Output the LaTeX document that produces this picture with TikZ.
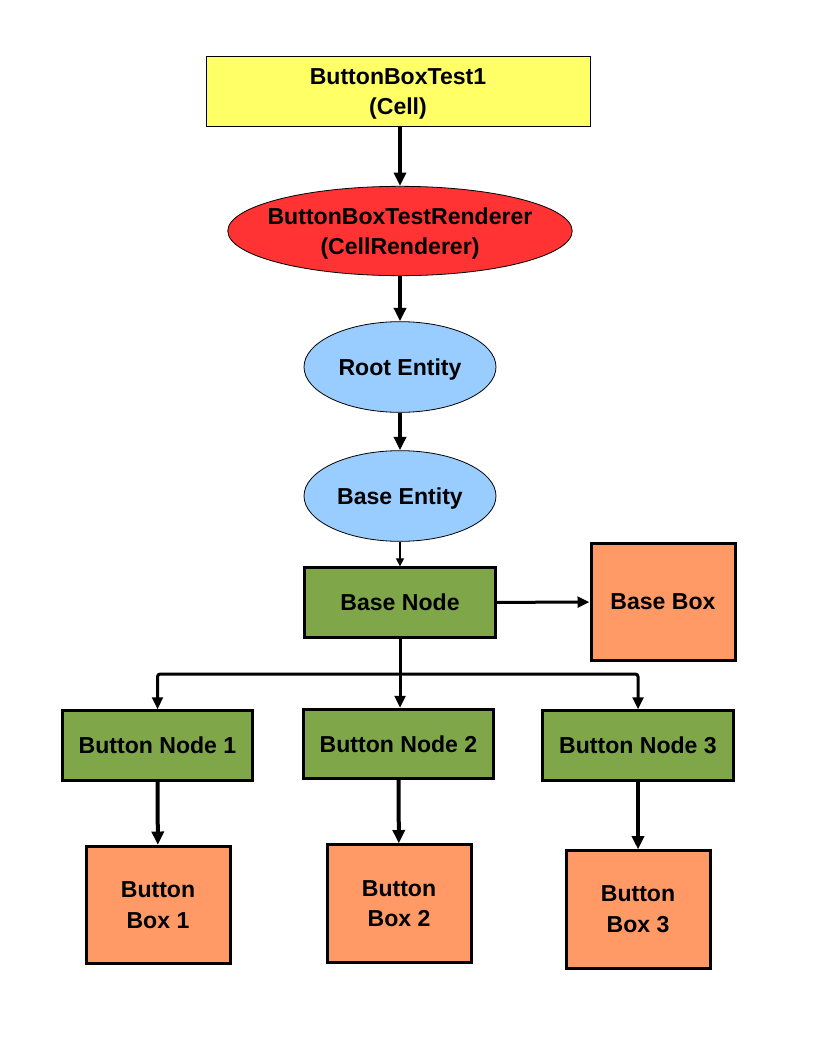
\documentclass[tikz,border=0pt]{standalone}
\usepackage{fontspec}
\setmainfont{Liberation Sans}
\usetikzlibrary{arrows.meta,shapes.geometric}
\definecolor{cellyellow}{HTML}{FFFF66}
\definecolor{rendred}{HTML}{FF3333}
\definecolor{entblue}{HTML}{99CCFF}
\definecolor{nodegreen}{HTML}{7FA74A}
\definecolor{boxorange}{HTML}{FF9966}
\begin{document}
\begin{tikzpicture}[
  x=0.75pt, y=-0.75pt,
  font=\fontsize{17.3}{23}\selectfont\bfseries,
  line join=miter,
  cellbox/.style={draw, line width=0.75pt, fill=cellyellow, align=center,
    minimum width=288pt, minimum height=53pt, inner sep=0pt, text depth=0pt},
  renderer/.style={draw, ellipse, line width=0.6pt, fill=rendred, align=center,
    minimum width=253pt, minimum height=67pt, inner xsep=-8pt, inner ysep=0pt,
    text depth=0pt},
  entity/.style={draw, ellipse, line width=0.6pt, fill=entblue, align=center,
    minimum width=144pt, minimum height=68pt, inner sep=0pt, text depth=0pt},
  scenenode/.style={draw, line width=2.25pt, fill=nodegreen, align=center,
    minimum width=143pt, minimum height=52pt, inner sep=0pt, text depth=0pt},
  scenebox/.style={draw, line width=2.25pt, fill=boxorange, align=center,
    minimum width=108pt, minimum height=88pt, inner sep=0pt},
  flow/.style={line width=3pt, -{Triangle[length=10pt,width=9pt]}},
  thinflow/.style={line width=1pt, -{Triangle[length=6pt,width=6pt]}},
  tree/.style={line width=2.25pt, rounded corners=2pt}
]
  \useasboundingbox (0,0) rectangle (816,1056);

  % cell and renderer
  \node[cellbox] (cell) at (398,91.5) {ButtonBoxTest1\\(Cell)};
  \node[renderer] (renderer) at (400,231) {ButtonBoxTestRenderer\\(CellRenderer)};

  % entities
  \node[entity] (root) at (400,367) {Root Entity};
  \node[entity] (baseent) at (400,496) {Base Entity};

  % scene graph
  \node[scenenode] (basenode) at (400,602.5) {Base Node};
  \node[scenebox] (basebox) at (663,602) {Base Box};

  \node[scenenode] (btnnode1) at (157.5,745.5) {Button Node 1};
  \node[scenenode] (btnnode2) at (398.5,744) {Button Node 2};
  \node[scenenode] (btnnode3) at (638,745.5) {Button Node 3};

  \node[scenebox] (btnbox1) at (158,905) {Button\\Box 1};
  \node[scenebox] (btnbox2) at (399,903.5) {Button\\Box 2};
  \node[scenebox] (btnbox3) at (638,909.5) {Button\\Box 3};

  % connectors
  \draw[flow] (cell.south -| renderer) -- (renderer.north);
  \draw[flow] (renderer) -- (root);
  \draw[flow] (root) -- (baseent);
  \draw[thinflow] (baseent) -- (basenode);
  \draw[line width=2.25pt, -{Triangle[length=9pt,width=8pt]}] (basenode) -- (basebox);

  \coordinate (fork) at (400,674);
  \draw[line width=2.25pt] (basenode) -- (fork);
  \draw[tree, -{Triangle[length=9pt,width=8pt]}] (fork) -| (btnnode1.north);
  \draw[tree, -{Triangle[length=9pt,width=8pt]}] (fork) -- (btnnode2.north -| fork);
  \draw[tree, -{Triangle[length=9pt,width=8pt]}] (fork) -| (btnnode3.north);

  \draw[flow] (btnnode1) -- (btnbox1);
  \draw[flow] (btnnode2) -- (btnbox2);
  \draw[flow] (btnnode3) -- (btnbox3);

\end{tikzpicture}
\end{document}
